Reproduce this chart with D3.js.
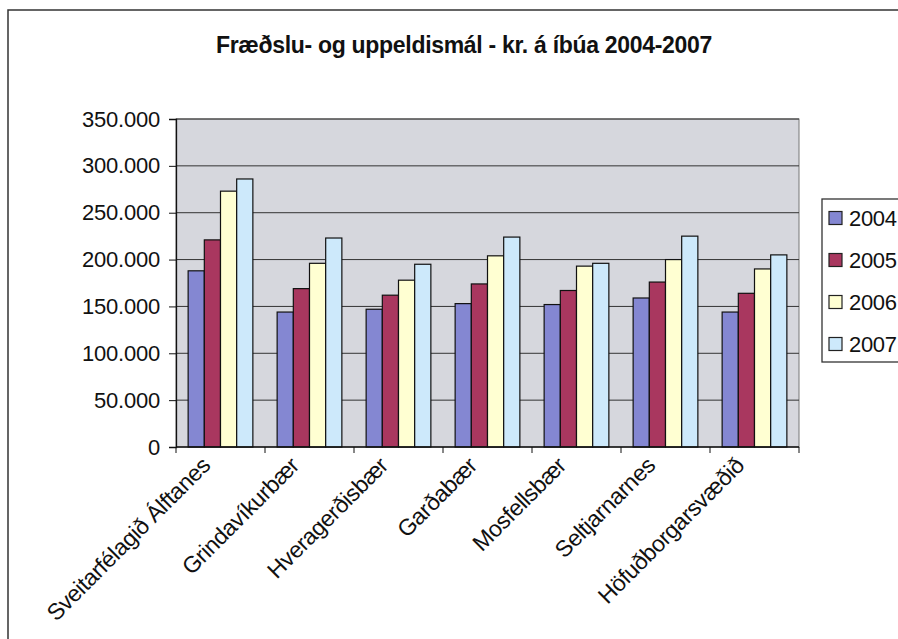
<!DOCTYPE html>
<html>
<head>
<meta charset="utf-8">
<script src="https://cdn.jsdelivr.net/npm/d3@7"></script>
<style>
  html, body { margin: 0; padding: 0; background: #fff; }
  svg { display: block; font-family: "Liberation Sans", Arial, sans-serif; }
</style>
</head>
<body>
<svg id="chart" width="898" height="639"></svg>
<script>
const title = "Fræðslu- og uppeldismál - kr. á íbúa 2004-2007";
const categories = ["Sveitarfélagið Álftanes", "Grindavíkurbær", "Hveragerðisbær", "Garðabær", "Mosfellsbær", "Seltjarnarnes", "Höfuðborgarsvæðið"];
const years = ["2004", "2005", "2006", "2007"];
const v2004 = [188000, 144000, 147000, 153000, 152000, 159000, 144000];
const v2005 = [221000, 169000, 162000, 174000, 167000, 176000, 164000];
const v2006 = [273000, 196000, 178000, 204000, 193000, 200000, 190000];
const v2007 = [286000, 223000, 195000, 224000, 196000, 225000, 205000];
const seriesValues = [v2004, v2005, v2006, v2007];
const yTicks = [0, 50000, 100000, 150000, 200000, 250000, 300000, 350000];
const colors = ["#8487d2", "#a9375f", "#ffffd2", "#cde9fb"];

(function () {
const svg = d3.select("#chart");
const pL = 176, pR = 799, pT = 119, pB = 447;

// outer frame
svg.append("path")
  .attr("d", "M8,639 L8,10 L898,10")
  .attr("fill", "none").attr("stroke", "#333").attr("stroke-width", 1.5);

// title
svg.append("text")
  .attr("x", 464).attr("y", 53)
  .attr("text-anchor", "middle")
  .attr("font-weight", "bold").attr("font-size", 23)
  .attr("letter-spacing", -0.3)
  .attr("fill", "#111")
  .text(title);

const y = d3.scaleLinear().domain([0, 350000]).range([pB, pT]);
const x0 = d3.scaleBand().domain(categories).range([pL, pR]).padding(0);
const x1 = d3.scaleBand().domain(years).range([0, x0.bandwidth()]).paddingInner(0).paddingOuter(0.75);

// plot background
svg.append("rect")
  .attr("x", pL).attr("y", pT)
  .attr("width", pR - pL).attr("height", pB - pT)
  .attr("fill", "#d6d7dd").attr("stroke", "#777").attr("stroke-width", 1);

// gridlines
svg.append("g").selectAll("line").data(yTicks.filter(d => d > 0)).join("line")
  .attr("x1", pL).attr("x2", pR)
  .attr("y1", d => y(d)).attr("y2", d => y(d))
  .attr("stroke", "#333").attr("stroke-width", 1);

// bars
const groups = svg.append("g").selectAll("g").data(categories).join("g")
  .attr("transform", d => `translate(${x0(d)},0)`);
groups.selectAll("rect")
  .data((c, i) => years.map((yr, s) => ({ yr, s, v: seriesValues[s][i] })))
  .join("rect")
  .attr("x", d => x1(d.yr))
  .attr("y", d => y(d.v))
  .attr("width", x1.bandwidth())
  .attr("height", d => pB - y(d.v))
  .attr("fill", d => colors[d.s])
  .attr("stroke", "#111").attr("stroke-width", 1.2);

// y axis
const fmt = d => d3.format(",")(d).replace(/,/g, ".");
const yAxis = svg.append("g")
  .attr("transform", `translate(${pL},0)`)
  .call(d3.axisLeft(y).tickValues(yTicks).tickFormat(fmt).tickSize(7).tickPadding(9));
yAxis.select(".domain").attr("stroke", "#111").attr("stroke-width", 1.3);
yAxis.selectAll(".tick line").attr("stroke", "#111");
yAxis.selectAll(".tick text")
  .attr("font-size", 22).attr("fill", "#111")
  .attr("font-family", "Liberation Sans, Arial, sans-serif")
  .attr("letter-spacing", -0.2);

// x axis (ticks at category boundaries)
const xb = svg.append("g").attr("transform", `translate(0,${pB})`);
xb.append("line").attr("x1", pL).attr("x2", pR).attr("y1", 0).attr("y2", 0)
  .attr("stroke", "#111").attr("stroke-width", 1.3);
const boundaries = categories.map(c => x0(c)).concat([pR]);
xb.selectAll("line.tk").data(boundaries).join("line").attr("class", "tk")
  .attr("x1", d => d).attr("x2", d => d).attr("y1", 0).attr("y2", 6)
  .attr("stroke", "#111");

// x labels
svg.append("defs").append("clipPath").attr("id", "lblclip")
  .append("rect").attr("x", 0).attr("y", 456).attr("width", 898).attr("height", 200);
svg.append("g").attr("clip-path", "url(#lblclip)")
  .selectAll("text").data(categories).join("text")
  .attr("transform", d => `translate(${x0(d) + x0.bandwidth() / 2 - 9},${467}) rotate(-45)`)
  .attr("text-anchor", "end")
  .attr("font-size", 23).attr("fill", "#111")
  .attr("letter-spacing", -0.4)
  .text(d => d);

// legend
const lg = svg.append("g");
lg.append("rect").attr("x", 822).attr("y", 199).attr("width", 100).attr("height", 163)
  .attr("fill", "#fff").attr("stroke", "#333").attr("stroke-width", 1.3);
const ly = d3.scalePoint().domain(years).range([218, 344]);
lg.selectAll("rect.sw").data(years).join("rect").attr("class", "sw")
  .attr("x", 829).attr("y", d => ly(d) - 6.5).attr("width", 13).attr("height", 13)
  .attr("fill", (d, i) => colors[i]).attr("stroke", "#222").attr("stroke-width", 1.2);
lg.selectAll("text").data(years).join("text")
  .attr("x", 849).attr("y", d => ly(d)).attr("dy", "0.36em")
  .attr("font-size", 22).attr("fill", "#111").attr("letter-spacing", -0.3)
  .text(d => d);
})();
</script>
</body>
</html>
